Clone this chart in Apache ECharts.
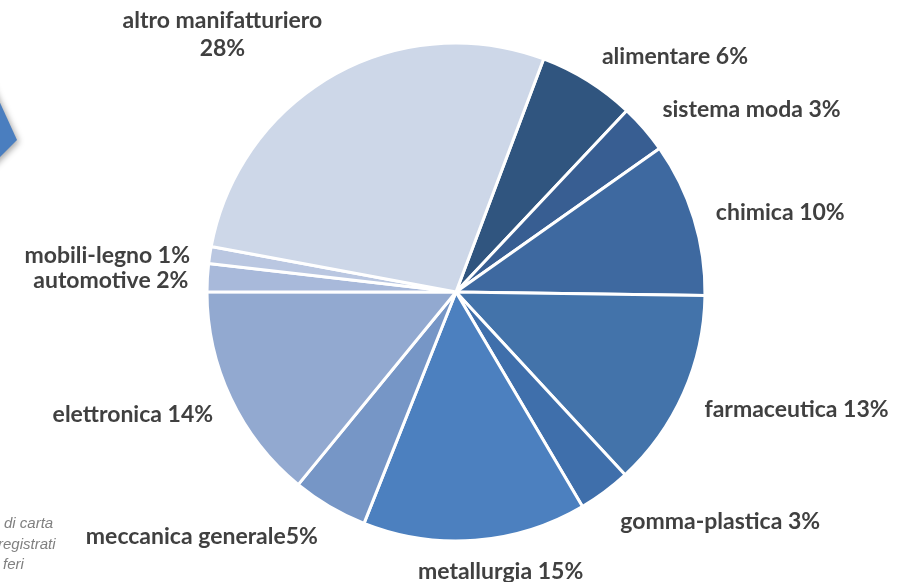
<!DOCTYPE html>
<html>
<head>
<meta charset="utf-8">
<script src="https://cdn.jsdelivr.net/npm/echarts@6/dist/echarts.min.js"></script>
<style>
html,body{margin:0;padding:0;background:#fff;}
#chart{width:917px;height:582px;}
</style>
</head>
<body>
<div id="chart"></div>
<script>
// ---- data ----
const categories = ['alimentare','sistema moda','chimica','farmaceutica','gomma-plastica','metallurgia','meccanica generale','elettronica','automotive','mobili-legno','altro manifatturiero'];
const values = [6.3, 3.2, 10.0, 12.9, 3.4, 14.5, 4.9, 14.1, 1.8, 1.1, 27.8];
const percentLabels = ['6%','3%','10%','13%','3%','15%','5%','14%','2%','1%','28%'];
const labelSeparators = [' ',' ',' ',' ',' ',' ','',' ',' ',' ','\n'];
const noteLines = ['di carta','registrati','feri'];

// ---- styles ----
const colors = ['#30557F','#385E92','#3E69A0','#4373AA','#3F6FAB','#4C80BF','#7696C6','#92A9D0','#A8B9DA','#BAC7E1','#CDD7E8'];
const labelNudge = [[2,-5],[1,-4],[0,1],[0,7],[2,11],[-59,8],[0,10],[3,6],[4,4],[3,4],[0,-21]];
const noteFont = 'italic 15px "Liberation Sans", Arial';

const chart = echarts.init(document.getElementById('chart'), null, {renderer:'canvas'});
chart.setOption({
  backgroundColor:'#ffffff',
  animation:false,
  graphic:[
    {type:'polygon', shape:{points:[[-20,59],[17,140],[-20,177]]},
     style:{fill:'#4A7EBF', shadowBlur:6, shadowColor:'rgba(0,0,0,0.35)', shadowOffsetX:2, shadowOffsetY:2}},
    {type:'text', left:4, top:516, style:{text:noteLines[0], font:noteFont, fill:'#808080'}},
    {type:'text', left:-2, top:537, style:{text:noteLines[1], font:noteFont, fill:'#808080'}},
    {type:'text', left:3, top:557, style:{text:noteLines[2], font:noteFont, fill:'#808080'}}
  ],
  series:[{
    type:'pie',
    center:[456,292],
    radius:[0,249],
    startAngle:69.4,
    clockwise:true,
    avoidLabelOverlap:false,
    itemStyle:{borderColor:'#ffffff', borderWidth:3},
    label:{
      show:true,
      position:'outside',
      distanceToLabelLine:0,
      color:'#404040',
      fontFamily:'Lato',
      fontWeight:'bold',
      fontSize:23,
      lineHeight:28,
      formatter: p => categories[p.dataIndex] + labelSeparators[p.dataIndex] + percentLabels[p.dataIndex]
    },
    labelLine:{show:false, length:23, length2:0},
    labelLayout: function(params){
      const i = params.dataIndex;
      const n = labelNudge[i];
      if (i === categories.length - 1) {
        return {align:'center', dx: n[0] - params.labelRect.width/2, dy: n[1]};
      }
      return {dx:n[0], dy:n[1]};
    },
    emphasis:{disabled:true},
    data: categories.map((c,i)=>({name:c, value:values[i], itemStyle:{color:colors[i]}}))
  }]
});
</script>
</body>
</html>
